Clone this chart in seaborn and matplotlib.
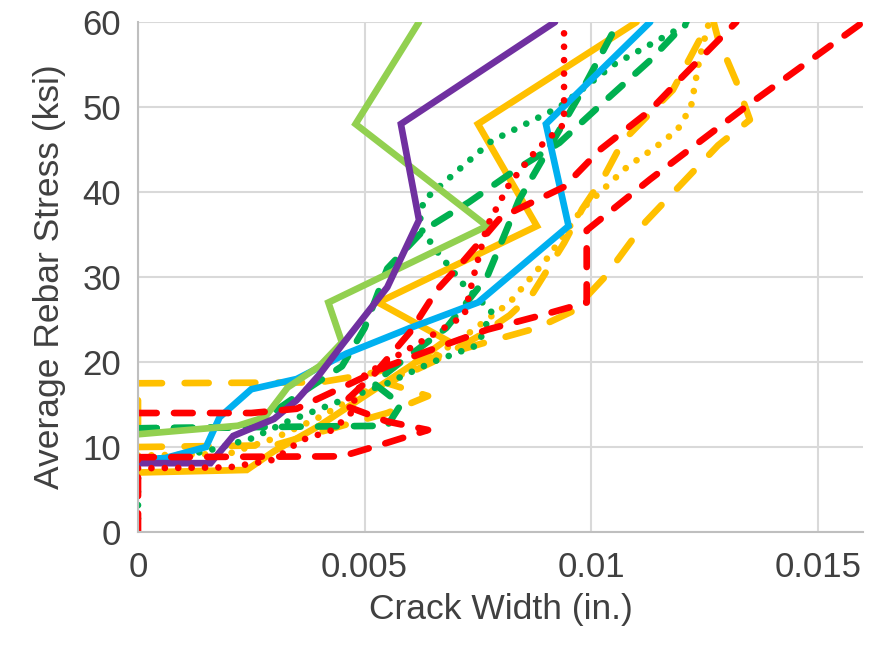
import matplotlib
matplotlib.use("Agg")
import matplotlib.pyplot as plt
import seaborn as sns

# crack width (in.) / average rebar stress (ksi)
purple_x = [0, 0.0016, 0.0021, 0.003, 0.0035, 0.004, 0.0045, 0.0055, 0.0062, 0.0058, 0.0092]
purple_y = [8.1, 8.1, 11.3, 13.3, 15.5, 18.5, 22, 28.8, 36.7, 48, 60]

lgreen_x = [0, 0.0022, 0.0028, 0.0033, 0.004, 0.0045, 0.0042, 0.0077, 0.0048, 0.0062]
lgreen_y = [11.5, 12.5, 13.5, 17, 19.5, 22.3, 27, 36, 48, 60]

orange_x = [0, 0.0024, 0.003, 0.004, 0.005, 0.006, 0.0068, 0.0053, 0.0088, 0.0075, 0.011]
orange_y = [7, 7.3, 9.5, 12.5, 16, 19.5, 22.6, 27, 36, 48, 60]

blue_x = [0, 0.0006, 0.0015, 0.0018, 0.0025, 0.0035, 0.0046, 0.006, 0.0075, 0.0095, 0.009, 0.0113]
blue_y = [8.5, 8.7, 10, 13.5, 16.8, 18, 21, 24, 27, 36, 48, 60]

gdot_x = [0, 0, 0.0006, 0.0015, 0.0025, 0.0033, 0.0045, 0.0055, 0.0065, 0.0075, 0.0078,
          0.0072, 0.0066, 0.0062, 0.0063, 0.0078, 0.0093, 0.0105, 0.0122]
gdot_y = [0, 8.5, 8.7, 9.5, 11, 13, 15.5, 17.5, 20, 22, 26, 29, 33, 36, 39, 46, 50, 55, 60]

gdashA_x = [0, 0.0055, 0.0058, 0.0052, 0.0058, 0.0068, 0.0077, 0.0084, 0.0097, 0.0106]
gdashA_y = [12.2, 12.5, 15, 17.5, 20, 24, 30, 39, 51, 60]

gdashB_x = [0, 0.0025, 0.0035, 0.0045, 0.005, 0.0055, 0.0063, 0.0073, 0.0083, 0.0093,
            0.0103, 0.0113, 0.0121]
gdashB_y = [12.2, 12.3, 16, 19.5, 24, 31, 35.5, 38.8, 42.5, 45.8, 50.7, 55.5, 60]

rdot_x = [0, 0.002, 0.003, 0.0036, 0.0043, 0.0047, 0.0048, 0.005, 0.0058, 0.0066, 0.0072,
          0.0074, 0.0077, 0.0082, 0.0088, 0.0094, 0.0094]
rdot_y = [7.5, 7.6, 8.5, 10.8, 12, 14, 16, 18.5, 21, 23.5, 25.5, 30, 36, 41, 45, 48, 59]

rdashA_x = [0, 0.0025, 0.0035, 0.0045, 0.0055, 0.0065, 0.0077, 0.0089, 0.0099, 0.0099,
            0.0113, 0.0134, 0.016]
rdashA_y = [14, 14, 14.5, 17, 19.5, 21.5, 23.8, 25.5, 27, 35.5, 41.5, 50, 60]

rdashB_x = [0, 0, 0.0045, 0.0055, 0.0064, 0.0055, 0.0045, 0.0052, 0.006, 0.0066, 0.0072,
            0.008, 0.0094, 0.0102, 0.0113, 0.012, 0.0132]
rdashB_y = [0, 8.8, 8.9, 10.5, 12, 13, 15, 18.5, 23.5, 28.5, 32, 37, 40.6, 45, 49.6, 53.5, 60]

odashA_x = [0, 0.004, 0.005, 0.0065, 0.0078, 0.0088, 0.0096, 0.0103, 0.0112, 0.012,
            0.0128, 0.0135, 0.0132, 0.0128, 0.0127]
odashA_y = [17.5, 17.6, 18.5, 20.5, 22.5, 24, 26, 30, 36.5, 41, 45.5, 48.5, 53, 58, 60]

odashB_x = [0, 0, 0.003, 0.0045, 0.0055, 0.0064, 0.0055, 0.0065, 0.0075, 0.0082, 0.0087,
            0.0094, 0.0098, 0.0103, 0.0107, 0.0118, 0.0126]
odashB_y = [15.5, 10, 10.2, 12.5, 14, 16, 17.5, 20, 23, 25.5, 28, 34, 38, 42, 46, 52, 60]

odot_x = [0, 0.002, 0.003, 0.004, 0.005, 0.0062, 0.0072, 0.0082, 0.009, 0.0098, 0.0108,
          0.0114, 0.0119, 0.0122, 0.0124, 0.0126]
odot_y = [9, 9.2, 11, 13.5, 16.5, 19.5, 23, 27, 32, 38, 43, 45.2, 47.3, 50, 56, 60]

x_ticks = [0, 0.005, 0.01, 0.015]
x_tick_labels = ["0", "0.005", "0.01", "0.015"]
y_ticks = [0, 10, 20, 30, 40, 50, 60]

PURPLE = "#7030A0"
LGREEN = "#92D050"
ORANGE = "#FFC000"
BLUE = "#00B0F0"
GREEN = "#00B050"
RED = "#FF0000"

DASH = (0, (2.8, 2.6))
LONGDASH = (0, (3.6, 3.4))
DOT = (0, (0.01, 2.0))

series = [
    (odashA_x, odashA_y, ORANGE, LONGDASH),
    (odashB_x, odashB_y, ORANGE, LONGDASH),
    (odot_x, odot_y, ORANGE, DOT),
    (orange_x, orange_y, ORANGE, "-"),
    (gdashA_x, gdashA_y, GREEN, DASH),
    (gdashB_x, gdashB_y, GREEN, DASH),
    (gdot_x, gdot_y, GREEN, DOT),
    (blue_x, blue_y, BLUE, "-"),
    (lgreen_x, lgreen_y, LGREEN, "-"),
    (purple_x, purple_y, PURPLE, "-"),
    (rdot_x, rdot_y, RED, DOT),
    (rdashB_x, rdashB_y, RED, DASH),
    (rdashA_x, rdashA_y, RED, DASH),
]

sns.set_style("white")
plt.rcParams["font.family"] = ["Liberation Sans", "DejaVu Sans"]

fig = plt.figure(figsize=(8.79, 6.48), dpi=100)
ax = fig.add_axes([0.157, 0.179, 0.825, 0.787])

for xs, ys, color, ls in series:
    sns.lineplot(x=xs, y=ys, sort=False, estimator=None, ax=ax, color=color,
                 linestyle=ls, linewidth=4.8, dash_capstyle="round",
                 solid_capstyle="round", solid_joinstyle="miter")

ax.set_xlim(0, 0.016)
ax.set_ylim(0, 60)
ax.set_xticks(x_ticks)
ax.set_xticklabels(x_tick_labels)
ax.set_yticks(y_ticks)
ax.grid(True, color="#D9D9D9", linewidth=1.5)
ax.set_axisbelow(True)
for side in ["top", "right"]:
    ax.spines[side].set_visible(False)
for side in ["left", "bottom"]:
    ax.spines[side].set_color("#BFBFBF")
    ax.spines[side].set_linewidth(1.5)
ax.tick_params(axis="both", length=0, labelsize=25, colors="#404040")
ax.tick_params(axis="x", pad=14)
ax.tick_params(axis="y", pad=12)
ax.set_xlabel("Crack Width (in.)", fontsize=25.5, color="#404040", labelpad=6)
ax.set_ylabel("Average Rebar Stress (ksi)", fontsize=25.5, color="#404040", labelpad=12)

fig.savefig("out.png", dpi=100)
